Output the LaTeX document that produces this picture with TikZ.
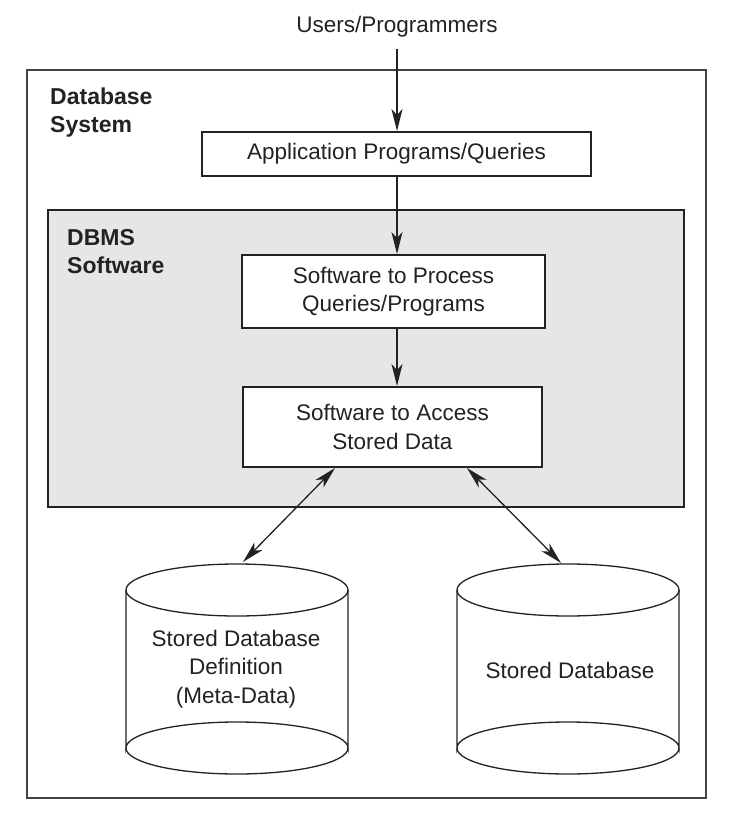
\documentclass[tikz,border=0pt]{standalone}
\usepackage{fontspec}
\setmainfont{Liberation Sans}
\usetikzlibrary{arrows.meta}
\definecolor{ink}{HTML}{222222}
\definecolor{dbmsgray}{HTML}{E6E6E6}
\tikzset{
  lbl/.style={font=\fontsize{22.5}{28.5}\selectfont, text=ink, align=center, inner sep=0pt},
  boldlbl/.style={font=\fontsize{23}{28}\selectfont\bfseries, text=ink, align=left, inner sep=0pt, anchor=north west},
  procbox/.style={draw=ink, line width=1.3pt, fill=white, inner sep=0pt},
  tip/.style={Stealth[length=22pt,width=11pt,inset=6pt]},
  conn/.style={draw=ink, line width=1.3pt, -{Stealth[length=22pt,width=11pt,inset=6pt]}},
  dconn/.style={draw=ink, line width=1.3pt, {Stealth[length=22pt,width=11pt,inset=6pt]}-{Stealth[length=22pt,width=11pt,inset=6pt]}},
  cyl/.style={draw=ink, line width=1.3pt}
}
\begin{document}
\begin{tikzpicture}[x=1pt,y=-1pt]
\useasboundingbox (0,0) rectangle (742,816);
% outer system box
\draw[draw=ink!85, line width=1.5pt] (27,70) rectangle (706,798);
\node[boldlbl] (dbsys) at (50,88) {Database\\System};
% DBMS software box
\draw[draw=ink, line width=1.5pt, fill=dbmsgray] (48,210) rectangle (684,507);
\node[boldlbl] (dbms) at (67,229) {DBMS\\Software};
% users
\node[lbl] (users) at (397,27) {Users/Programmers};
\coordinate (usersbot) at (397,49);
% boxes
\node[procbox, minimum width=389pt, minimum height=44pt] (app) at (396.5,154) {};
\node[lbl] at (app.center) {Application Programs/Queries};
\node[procbox, minimum width=303pt, minimum height=73pt] (proc) at (393.5,291.5) {};
\node[lbl] at (proc.center) {Software to Process\\Queries/Programs};
\node[procbox, minimum width=299pt, minimum height=80pt] (acc) at (392.5,427) {};
\node[lbl] at (acc.center) {Software to Access\\Stored Data};
% cylinders
\draw[cyl, fill=white] (126,590) -- (126,748) arc[start angle=180, end angle=360, x radius=111, y radius=26] -- (348,590);
\draw[cyl] (237,590) ellipse [x radius=111, y radius=26];
\draw[cyl] (126,748) arc[start angle=180, end angle=0, x radius=111, y radius=26];
\node[lbl] (meta) at (236,669) {Stored Database\\Definition\\(Meta-Data)};
\coordinate (metatop) at (243,562);
\draw[cyl, fill=white] (457,590) -- (457,748) arc[start angle=180, end angle=360, x radius=111, y radius=26] -- (679,590);
\draw[cyl] (568,590) ellipse [x radius=111, y radius=26];
\draw[cyl] (457,748) arc[start angle=180, end angle=0, x radius=111, y radius=26];
\node[lbl] (sdb) at (570,670) {Stored Database};
\coordinate (sdbtop) at (561,563);
% connectors
\draw[conn] (usersbot) -- (397,131);
\draw[conn] (397,176) -- (397,254);
\draw[conn] (397,328) -- (397,386);
\coordinate (accL) at (335,468);
\coordinate (accR) at (467,468);
\draw[dconn] (accL) -- (metatop);
\draw[dconn] (accR) -- (sdbtop);
\end{tikzpicture}
\end{document}
